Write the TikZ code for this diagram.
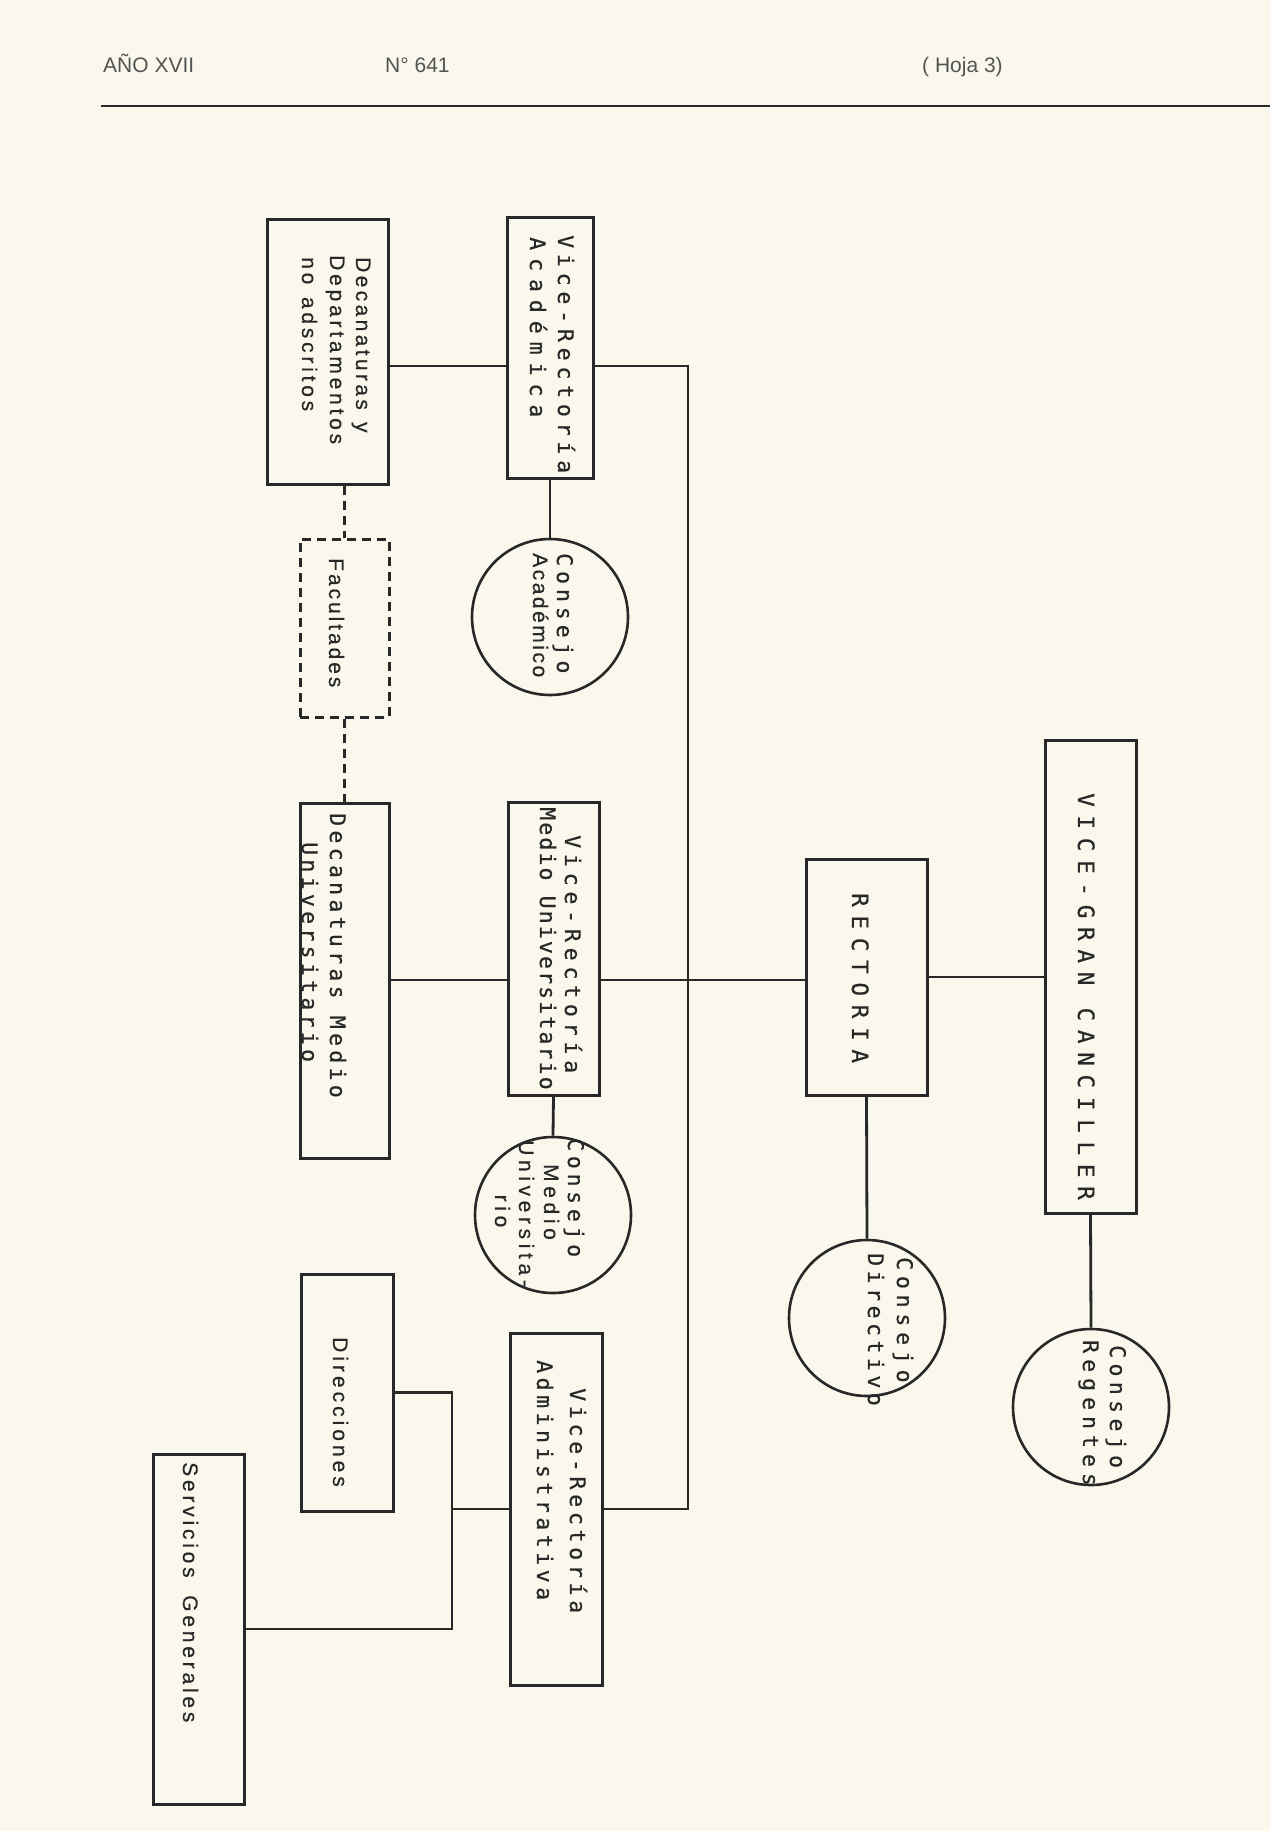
\documentclass[tikz,border=0pt]{standalone}
\usepackage{fontspec}
\newfontfamily\monof[FakeBold=0.6]{DejaVu Sans Mono}
\newfontfamily\sansf[FakeBold=0.5]{Liberation Sans}
\newfontfamily\headf{Liberation Sans}
\newcommand\LSp[2]{{\addfontfeatures{LetterSpace=#1}#2}}
\definecolor{paper}{RGB}{250,248,236}
\definecolor{ink}{RGB}{40,40,40}
\begin{document}
\begin{tikzpicture}[x=1pt,y=-1pt,
  box/.style={draw=ink, line width=3pt, rectangle, inner sep=0pt},
  dbox/.style={box, dash pattern=on 9pt off 6pt},
  circ/.style={draw=ink, line width=2.6pt, circle, inner sep=0pt, minimum size=156pt},
  conn/.style={draw=ink, line width=2.8pt},
  dconn/.style={conn, dash pattern=on 9pt off 6pt},
  mtxt/.style={rotate=-90, anchor=base west, inner sep=0pt, text=ink, font=\monof\fontsize{21.5pt}{25pt}\selectfont},
  mtxtL/.style={mtxt, font=\monof\fontsize{22.5pt}{26pt}\selectfont},
  stxt/.style={rotate=-90, anchor=base west, inner sep=0pt, text=ink, font=\sansf\fontsize{21pt}{25pt}\selectfont},
  stxtc/.style={stxt, anchor=base},
  htxt/.style={anchor=base west, inner sep=0pt, text=ink!80, font=\headf\fontsize{21pt}{25pt}\selectfont}]
\useasboundingbox (0,0) rectangle (1270,1831);
\fill[paper] (0,0) rectangle (1270,1831);

% header
\node[htxt] (h1) at (103,72) {AÑO XVII};
\node[htxt] (h2) at (385,72) {N° 641};
\node[htxt] (h3) at (922,72) {( Hoja 3)};
\coordinate (hl1) at (101,106);
\coordinate (hl2) at (1270,106);
\draw[conn] (hl1) -- (hl2);

% boxes
\node[box, minimum width=121pt, minimum height=265pt] (dd) at (327.5,351.5) {};
\node[box, minimum width=86pt, minimum height=261pt] (vra) at (550,347.5) {};
\node[dbox, minimum width=89pt, minimum height=178pt] (fac) at (344.5,628) {};
\node[circ] (ca) at (550,617) {};
\node[box, minimum width=89pt, minimum height=355pt] (dmu) at (344.5,980.5) {};
\node[box, minimum width=91pt, minimum height=293pt] (vrmu) at (553.5,948.5) {};
\node[circ] (cmu) at (553,1215) {};
\node[box, minimum width=92pt, minimum height=237pt] (dir) at (347,1392.5) {};
\node[box, minimum width=92pt, minimum height=352pt] (vrad) at (556,1509) {};
\node[box, minimum width=91pt, minimum height=350pt] (sg) at (198.5,1629) {};
\node[box, minimum width=121pt, minimum height=236pt] (rec) at (866.5,977) {};
\node[box, minimum width=91pt, minimum height=473pt] (vgc) at (1090.5,976.5) {};
\node[circ] (cd) at (867,1318) {};
\node[circ] (cr) at (1091,1407) {};

% junctions
\coordinate (j1) at (688,366);
\coordinate (j2) at (688,1509);
\coordinate (j3) at (688,980);
\coordinate (j4) at (452,1509);

% connectors
\draw[conn] (dd.east |- j1) -- (vra.west |- j1);
\draw[conn] (vra.east |- j1) -- (j1) -- (j2) -- (vrad.east);
\draw[conn] (vra.south) -- (ca.north);
\draw[dconn] (dd.south -| fac.north) -- (fac.north);
\draw[dconn] (fac.south) -- (dmu.north);
\draw[conn] (dmu.east |- j3) -- (vrmu.west |- j3);
\draw[conn] (vrmu.east |- j3) -- (j3) -- (rec.west |- j3);
\draw[conn] (vrmu.south) -- (cmu.north);
\draw[conn] (rec.east) -- (vgc.west |- rec.east);
\draw[conn] (rec.south) -- (cd.north);
\draw[conn] (vgc.south) -- (cr.north);
\draw[conn] (vrad.west) -- (j4);
\draw[conn] (dir.east) -- (dir.east -| j4) -- (sg.east -| j4) -- (sg.east);

% texts
\node[stxt] (dd1) at (356,257) {\LSp{16}{Decanaturas\hspace{3pt} y}};
\node[stxt] (dd2) at (330,255) {\LSp{18}{Departamentos}};
\node[stxt] (dd3) at (302,257) {\LSp{18}{no\hspace{3pt} adscritos}};
\node[mtxt] (vra1) at (558,235) {\LSp{27}{Vice-Rectoría}};
\node[mtxt] (vra2) at (530,237) {\LSp{37}{Académica}};
\node[stxt] (fac1) at (329,558) {\LSp{14}{Facultades}};
\node[mtxt] (ca1) at (557,553) {\LSp{23}{Consejo}};
\node[stxt] (ca2) at (533,553) {\LSp{12}{Académico}};
\node[mtxt] (dmu1) at (330,813) {\LSp{20}{Decanaturas Medio}};
\node[mtxt] (dmu2) at (302,842) {\LSp{20}{Universitario}};
\node[mtxt] (vrmu1) at (565,835) {\LSp{27}{Vice-Rectoría}};
\node[mtxt] (vrmu2) at (540,807) {\LSp{10}{Medio Universitario}};
\node[mtxt] (cmu1) at (568,1138) {\LSp{22}{Consejo}};
\node[stxtc] (cmu2) at (544,1202) {\LSp{22}{Medio}};
\node[stxt] (cmu3) at (519,1140) {\LSp{22}{Universita-}};
\node[stxtc] (cmu4) at (495,1211) {\LSp{22}{rio}};
\node[mtxtL] (rec1) at (852,893) {\LSp{39}{RECTORIA}};
\node[mtxtL] (vgc1) at (1078,793) {\LSp{39}{VICE-GRAN CANCILLER}};
\node[mtxt] (cd1) at (897,1257) {\LSp{27}{Consejo}};
\node[mtxt] (cd2) at (868,1253) {\LSp{21}{Directivo}};
\node[mtxt] (cr1) at (1110,1345) {\LSp{25}{Consejo}};
\node[mtxt] (cr2) at (1083,1340) {\LSp{28}{Regentes}};
\node[mtxt] (vrad1) at (570,1388) {\LSp{22}{Vice-Rectoría}};
\node[mtxt] (vrad2) at (537,1360) {\LSp{21}{Administrativa}};
\node[stxt] (dir1) at (333,1337) {\LSp{19}{Direcciones}};
\node[stxt] (sg1) at (183,1462) {\LSp{18}{Servicios\hspace{8pt} Generales}};
\end{tikzpicture}
\end{document}
